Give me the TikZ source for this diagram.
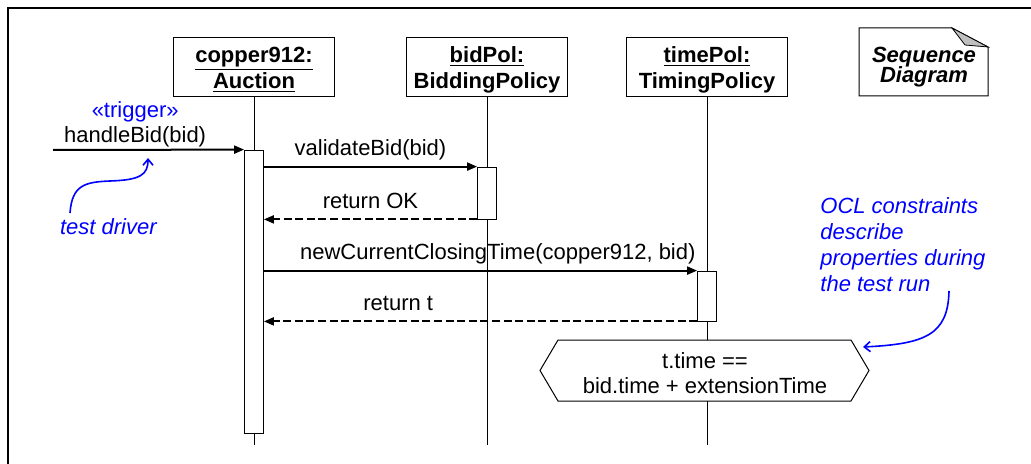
\documentclass[tikz,border=0pt]{standalone}
\usepackage{fontspec}
\setmainfont{Liberation Sans}
\usepackage{tikz}
\usetikzlibrary{arrows.meta, positioning}

\begin{document}
\begin{tikzpicture}[x=0.5pt, y=-0.5pt,
  every node/.style={font=\fontsize{11}{12.5}\selectfont},
  obj/.style={draw, line width=0.5pt, minimum width=80.5pt, minimum height=29.5pt, align=center, text depth=0pt, font=\fontsize{11}{13}\selectfont\bfseries},
  act/.style={draw, fill=white, line width=0.4pt, minimum width=9.5pt, inner sep=0pt},
  life/.style={line width=0.5pt},
  msg/.style={line width=1pt, -{Triangle[length=5pt,width=4pt]}},
  ret/.style={msg, dash pattern=on 4pt off 1.8pt},
  lbl/.style={above, text depth=0pt, inner ysep=4.8pt},
  note/.style={blue, font=\fontsize{11}{13}\selectfont\itshape},
  hint/.style={blue, line width=0.8pt, -{Straight Barb[length=3pt,width=5pt]}}]
  \useasboundingbox (0,0) rectangle (1031,464);

  % Frame
  \draw[line width=1pt] (8,464) -- (8,8) -- (1031,8);

  % Objects and lifelines
  \node[obj] (auction) at (254,67.5) {\underline{copper912:}\\\underline{Auction}};
  \node[obj] (bidpol) at (487,67.5) {\underline{bidPol:}\\\underline{BiddingPolicy}};
  \node[obj] (timepol) at (707,67.5) {\underline{timePol:}\\\underline{TimingPolicy}};
  \coordinate (end1) at (254,445);
  \coordinate (end2) at (487,445);
  \coordinate (end3) at (707,445);
  \draw[life] (auction) -- (end1);
  \draw[life] (bidpol) -- (end2);
  \draw[life] (timepol) -- (end3);

  % Diagram note
  \draw[line width=0.5pt, fill=white] (859,28) -- (952,28) -- (988,47) -- (988,96) -- (859,96) -- cycle;
  \draw[line width=0.4pt, fill=gray!50] (952,28) -- (988,47) -- (965,45) -- cycle;
  \node[font=\fontsize{11}{9}\selectfont\bfseries\itshape, align=center] (seq) at (924,67) {Sequence\\[-1.2pt]Diagram};

  % Activations
  \node[act, minimum height=141.5pt] (act1) at (254,291.5) {};
  \node[act, minimum height=26pt] (act2) at (487,193) {};
  \node[act, minimum height=25pt] (act3) at (707,296) {};

  % Messages
  \coordinate (trig) at (53,150);
  \draw[msg] (trig) -- node[lbl, inner ysep=3pt, pos=0.43, align=center] {\textcolor{blue}{«trigger»}\\handleBid(bid)} (act1.north west);
  \draw[msg] (act1.east |- act2.north west) -- node[lbl] {validateBid(bid)} (act2.north west);
  \draw[ret] (act2.south west) -- node[lbl] {return OK} (act1.east |- act2.south west);
  \draw[msg] (act1.east |- act3.north west) -- node[lbl, pos=0.54] {newCurrentClosingTime(copper912, bid)} (act3.north west);
  \draw[ret] (act3.south west) -- node[lbl, pos=0.69] {return t} (act1.east |- act3.south west);

  % Constraint
  \draw[line width=0.5pt, fill=white] (540,370.5) -- (558,340) -- (851,340) -- (869,370.5) -- (851,401) -- (558,401) -- cycle;
  \node[align=center] (cond) at (705,373) {t.time ==\\bid.time + extensionTime};

  % Comments
  \node[note, anchor=west] (drv) at (53,227) {test driver};
  \coordinate (drvtop) at (70,213);
  \coordinate (trigtip) at (148,158);
  \draw[hint] (drvtop) .. controls (72,185) and (85,182) .. (110,181) .. controls (140,180) and (148,175) .. (trigtip);
  \node[note, align=left, anchor=north west, inner sep=0pt] (ocl) at (820,197) {OCL constraints\\describe\\properties during\\the test run};
  \coordinate (oclfoot) at (949,291);
  \coordinate (condtip) at (863,347);
  \draw[hint] (oclfoot) .. controls (948,335) and (925,344) .. (condtip);
\end{tikzpicture}
\end{document}
